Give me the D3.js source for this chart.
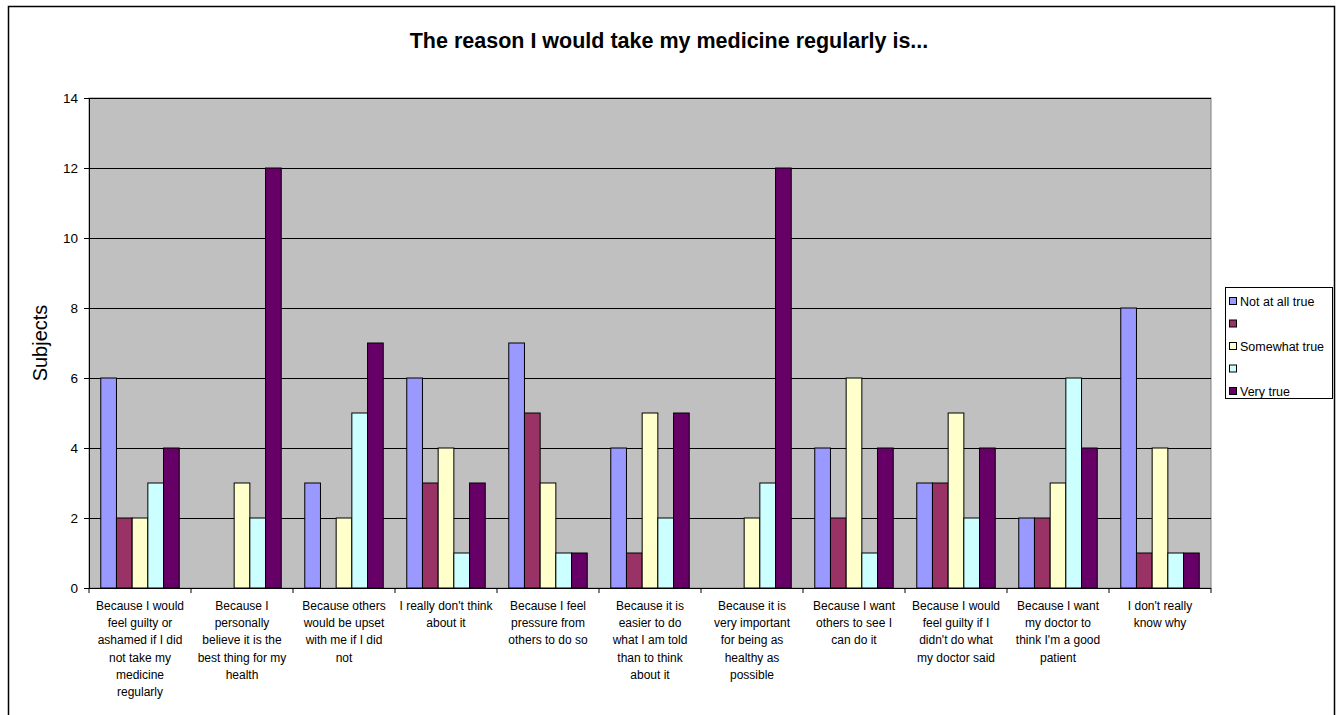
<!DOCTYPE html>
<html>
<head>
<meta charset="utf-8">
<script src="https://cdn.jsdelivr.net/npm/d3@7"></script>
<style>
  body { margin: 0; background: #fff; }
  svg { display: block; font-family: "Liberation Sans", Arial, sans-serif; }
</style>
</head>
<body>
<svg id="chart" width="1338" height="715"></svg>
<script>
// chart data
const categories = [
  ["Because I would", "feel guilty or", "ashamed if I did", "not take my", "medicine", "regularly"],
  ["Because I", "personally", "believe it is the", "best thing for my", "health"],
  ["Because others", "would be upset", "with me if I did", "not"],
  ["I really don't think", "about it"],
  ["Because I feel", "pressure from", "others to do so"],
  ["Because it is", "easier to do", "what I am told", "than to think", "about it"],
  ["Because it is", "very important", "for being as", "healthy as", "possible"],
  ["Because I want", "others to see I", "can do it"],
  ["Because I would", "feel guilty if I", "didn't do what", "my doctor said"],
  ["Because I want", "my doctor to", "think I'm a good", "patient"],
  ["I don't really", "know why"]
]
const seriesNames = ["Not at all true", "", "Somewhat true", "", "Very true"]
const seriesColors = ["#9999FF", "#993366", "#FFFFCC", "#CCFFFF", "#660066"]
const notAtAll    = [6, 0, 3, 6, 7, 4, 0, 4, 3, 2, 8]
const series2     = [2, 0, 0, 3, 5, 1, 0, 2, 3, 2, 1]
const somewhat    = [2, 3, 2, 4, 3, 5, 2, 6, 5, 3, 4]
const series4     = [3, 2, 5, 1, 1, 2, 3, 1, 2, 6, 1]
const veryTrue    = [4, 12, 7, 3, 1, 5, 12, 4, 4, 4, 1]
const yTicks = [0, 2, 4, 6, 8, 10, 12, 14]

const allSeries = [notAtAll, series2, somewhat, series4, veryTrue]

const svg = d3.select("#chart")

// outer chart border
svg.append("rect")
  .attr("x", 8.5).attr("y", 6.5)
  .attr("width", 1326).attr("height", 720)
  .attr("fill", "#fff")
  .attr("stroke", "#000").attr("stroke-width", 1.5)

const plot = { left: 89, right: 1211, top: 98, bottom: 588 }

const x0 = d3.scaleBand()
  .domain(d3.range(categories.length))
  .range([plot.left, plot.right])
  .paddingInner(0).paddingOuter(0)

// excel gap width 150%: bars take 5/(5+1.5) of each category
const groupW = x0.bandwidth() * 5 / 6.5
const x1 = d3.scaleBand()
  .domain(d3.range(allSeries.length))
  .range([0, groupW])

const y = d3.scaleLinear().domain([0, 14]).range([plot.bottom, plot.top])

// grey plot area
svg.append("rect")
  .attr("x", plot.left).attr("y", plot.top)
  .attr("width", plot.right - plot.left).attr("height", plot.bottom - plot.top)
  .attr("fill", "#C0C0C0")
  .attr("stroke", "#808080").attr("stroke-width", 1)

// gridlines
svg.append("g")
  .selectAll("line")
  .data(yTicks.filter(d => d > 0))
  .join("line")
  .attr("x1", plot.left).attr("x2", plot.right)
  .attr("y1", d => Math.round(y(d)) + 0.5).attr("y2", d => Math.round(y(d)) + 0.5)
  .attr("stroke", "#000").attr("stroke-width", 1)

// bars
const groups = svg.append("g")
  .selectAll("g")
  .data(categories.map((c, i) => i))
  .join("g")
  .attr("transform", i => `translate(${x0(i) + (x0.bandwidth() - groupW) / 2},0)`)

groups.selectAll("rect")
  .data(i => allSeries.map((s, k) => ({ k, v: s[i] })))
  .join("rect")
  .filter(d => d.v > 0)
  .attr("x", d => x1(d.k))
  .attr("y", d => y(d.v))
  .attr("width", x1.bandwidth())
  .attr("height", d => y(0) - y(d.v))
  .attr("fill", d => seriesColors[d.k])
  .attr("stroke", "#000").attr("stroke-width", 1)

// y axis
const yAxis = svg.append("g")
  .attr("transform", `translate(${plot.left},0)`)
  .call(d3.axisLeft(y).tickValues(yTicks).tickSize(5).tickPadding(6))
yAxis.select(".domain").attr("stroke", "#000")
yAxis.selectAll("text").attr("font-size", 13.5).attr("fill", "#000")
  .attr("font-family", "'Liberation Sans', Arial, sans-serif")

// x axis with ticks between categories
const xAxisG = svg.append("g")
svg.append("line")
  .attr("x1", plot.left).attr("x2", plot.right)
  .attr("y1", plot.bottom + 0.5).attr("y2", plot.bottom + 0.5)
  .attr("stroke", "#000")
xAxisG.selectAll("line")
  .data(d3.range(categories.length + 1))
  .join("line")
  .attr("x1", i => i < categories.length ? x0(i) : plot.right)
  .attr("x2", i => i < categories.length ? x0(i) : plot.right)
  .attr("y1", plot.bottom).attr("y2", plot.bottom + 5)
  .attr("stroke", "#000")

const xLabels = svg.append("g")
  .selectAll("text")
  .data(categories)
  .join("text")
  .attr("x", (d, i) => x0(i) + x0.bandwidth() / 2)
  .attr("y", 610)
  .attr("text-anchor", "middle")
  .attr("font-size", 12)
  .attr("fill", "#000")
xLabels.selectAll("tspan")
  .data(d => d)
  .join("tspan")
  .attr("x", function () { return this.parentNode.getAttribute("x") })
  .attr("dy", (d, j) => j === 0 ? 0 : 17.2)
  .text(d => d)

// y axis title
svg.append("text")
  .attr("transform", `translate(47,${(plot.top + plot.bottom) / 2}) rotate(-90)`)
  .attr("text-anchor", "middle")
  .attr("font-size", 20)
  .text("Subjects")

// title
svg.append("text")
  .attr("x", 669).attr("y", 48)
  .attr("text-anchor", "middle")
  .attr("font-size", 21.5).attr("font-weight", "bold")
  .text("The reason I would take my medicine regularly is...")

// legend
const legend = svg.append("g").attr("transform", "translate(1225,287)")
legend.append("rect")
  .attr("x", 0.5).attr("y", 0.5)
  .attr("width", 107).attr("height", 111)
  .attr("fill", "#fff").attr("stroke", "#000")
const items = legend.selectAll("g.item")
  .data(seriesNames)
  .join("g")
  .attr("class", "item")
  .attr("transform", (d, i) => `translate(0,${10 + i * 22.5})`)
items.append("rect")
  .attr("x", 4.5).attr("y", 0.5)
  .attr("width", 7).attr("height", 7)
  .attr("fill", (d, i) => seriesColors[i])
  .attr("stroke", "#000")
items.append("text")
  .attr("x", 15).attr("y", 9)
  .attr("font-size", 12.5)
  .text(d => d)
</script>
</body>
</html>
